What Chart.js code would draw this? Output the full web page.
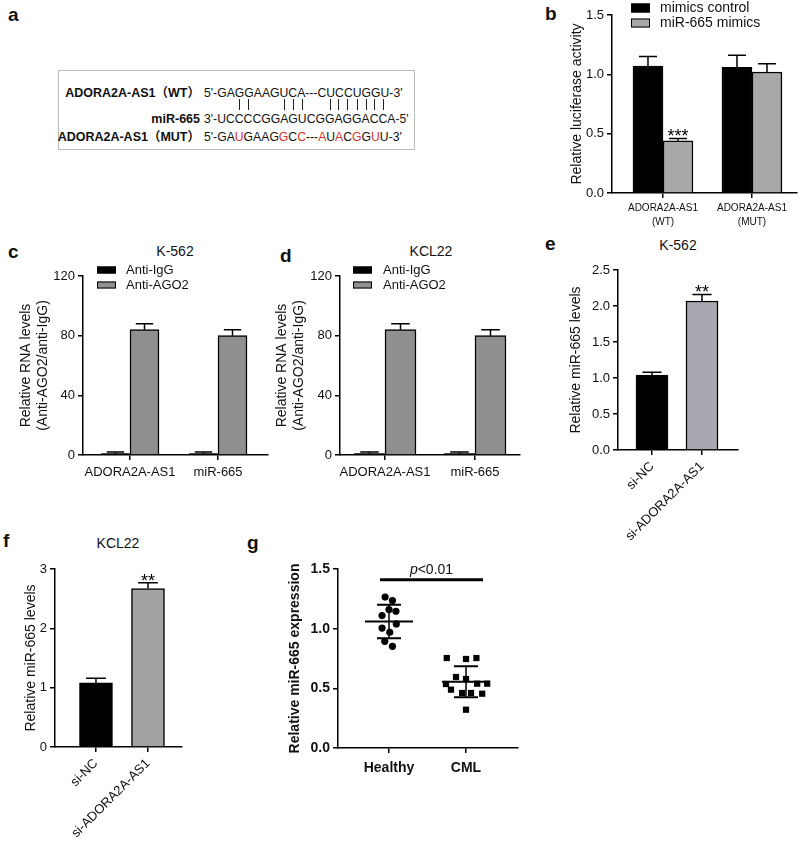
<!DOCTYPE html>
<html>
<head>
<meta charset="utf-8">
<script src="https://cdn.jsdelivr.net/npm/chart.js@4.4.1/dist/chart.umd.min.js"></script>
<style>
  body { margin: 0; background: #fff; width: 800px; height: 845px; position: relative; overflow: hidden;
         font-family: "Liberation Sans", Arial, "Noto Sans CJK SC", sans-serif; color: #111; }
  canvas { position: absolute; }
  .lbl { position: absolute; font-weight: bold; font-size: 19px; line-height: 20px; }
  .ttl { position: absolute; font-size: 14px; line-height: 16px; transform: translateX(-50%); white-space: nowrap; }
  #seqbox { position: absolute; left: 58px; top: 70px; width: 357px; height: 80px; border: 1px solid #bbb; box-sizing: border-box; }
  .nm { position: absolute; left: 0; width: 200px; text-align: right; font-weight: bold; font-size: 12.5px; line-height: 14px; white-space: nowrap; }
  .sq { position: absolute; left: 204px; font-size: 12.2px; line-height: 14px; white-space: nowrap; }
  .sq .red { color: #d8302c; }
  .sq .hid { color: transparent; }
  .sq .bar { color: transparent; position: relative; }
  .sq .bar::after { content: ''; position: absolute; left: 50%; top: 2px; height: 11px; border-left: 1.3px solid #222; }
</style>
</head>
<body>
<div class="lbl" style="left:8px;top:5px">a</div>
<div class="lbl" style="left:545px;top:4px">b</div>
<div class="lbl" style="left:8px;top:242px">c</div>
<div class="lbl" style="left:280px;top:246px">d</div>
<div class="lbl" style="left:545px;top:234px">e</div>
<div class="lbl" style="left:3px;top:531px">f</div>
<div class="lbl" style="left:247px;top:533px">g</div>

<div id="seqbox"></div>
<div id="seq"></div>

<div class="ttl" style="left:175px;top:243px">K-562</div>
<div class="ttl" style="left:431px;top:243px">KCL22</div>
<div class="ttl" style="left:678px;top:237px">K-562</div>
<div class="ttl" style="left:118px;top:535px">KCL22</div>

<canvas id="chartB" width="260" height="235" style="left:540px;top:0px"></canvas>
<canvas id="chartC" width="275" height="230" style="left:0px;top:255px"></canvas>
<canvas id="chartD" width="262" height="230" style="left:270px;top:255px"></canvas>
<canvas id="chartE" width="260" height="360" style="left:540px;top:240px"></canvas>
<canvas id="chartF" width="200" height="305" style="left:0px;top:540px"></canvas>
<canvas id="chartG" width="330" height="305" style="left:200px;top:540px"></canvas>

<script>
// a: binding site
const wtName = "ADORA2A-AS1（WT）";
const wtSeq = "5'-GAGGAAGUCA---CUCCUGGU-3'";
const mirName = "miR-665";
const mirSeq = "3'-UCCCCGGAGUCGGAGGACCA-5'";
const mutName = "ADORA2A-AS1（MUT）";
const mutSeq = "5'-GAUGAAGGCC---AUACGGUU-3'";
const pairedAt = [5, 6, 10, 11, 12, 15, 16, 17, 18, 19, 20, 21];
const mutRed = [5, 10, 12, 16, 18, 20, 22];

// b: luciferase
const lucCats = [["ADORA2A-AS1", "(WT)"], ["ADORA2A-AS1", "(MUT)"]];
const lucControl = [1.07, 1.06];
const lucControlErr = [0.08, 0.10];
const lucMimics = [0.44, 1.02];
const lucMimicsErr = [0.02, 0.07];
const lucStars = ["***", ""];

// c, d: RIP
const ripCats = ["ADORA2A-AS1", "miR-665"];
const k562IgG = [1.0, 1.0];
const k562IgGErr = [1.0, 1.0];
const k562AGO2 = [84, 80];
const k562AGO2Err = [4, 4];
const kclIgG = [1.0, 1.0];
const kclIgGErr = [1.0, 1.0];
const kclAGO2 = [84, 80];
const kclAGO2Err = [4, 4];

// e, f: knockdown
const siCats = ["si-NC", "si-ADORA2A-AS1"];
const k562Si = [1.04, 2.07];
const k562SiErr = [0.04, 0.09];
const kclSi = [1.08, 2.67];
const kclSiErr = [0.08, 0.10];
const siStars = ["", "**"];

// g: patients
const groups = ["Healthy", "CML"];
const healthyVals = [1.265, 1.235, 1.16, 1.145, 1.11, 1.04, 1.005, 0.97, 0.894, 0.852];
const healthyJitter = [-0.05, 0.045, 0, 0.09, -0.09, 0.095, -0.09, 0.01, -0.055, 0.045];
const cmlVals = [0.754, 0.746, 0.754, 0.595, 0.578, 0.536, 0.539, 0.539, 0.489, 0.461, 0.461, 0.455, 0.321];
const cmlJitter = [-0.25, 0, 0.135, -0.13, 0, -0.26, 0.145, 0.275, -0.195, -0.05, 0.065, 0.21, 0];
const groupMean = [1.06, 0.555];
const groupSD = [0.14, 0.13];
const pText = ["p", "<0.01"];
const pLevel = 1.41;

const FONT = '"Liberation Sans", Arial, sans-serif';
const INK = "#111";
Chart.defaults.font.family = FONT;
Chart.defaults.color = INK;

// panel a
function seqRow(text, top, cls) {
  const d = document.createElement("div");
  d.className = "sq";
  d.style.top = top + "px";
  [...text].forEach((ch, i) => {
    const s = document.createElement("span");
    s.textContent = ch;
    const c = cls(i);
    if (c) s.className = c;
    d.appendChild(s);
  });
  document.getElementById("seq").appendChild(d);
}
function nameRow(text, top) {
  const d = document.createElement("div");
  d.className = "nm";
  d.style.top = top + "px";
  d.textContent = text;
  document.getElementById("seq").appendChild(d);
}
nameRow(wtName, 86);
seqRow(wtSeq, 86, () => "");
seqRow(mirSeq, 97, i => pairedAt.includes(i) ? "bar" : "hid");
nameRow(mirName, 112);
seqRow(mirSeq, 112, () => "");
nameRow(mutName, 130);
seqRow(mutSeq, 130, i => mutRed.includes(i) ? "red" : "");

// plugins
const errorBars = {
  id: "errorBars",
  afterDatasetsDraw(chart) {
    const { ctx } = chart;
    const y = chart.scales.y;
    chart.data.datasets.forEach((ds, di) => {
      if (!ds.errors) return;
      chart.getDatasetMeta(di).data.forEach((bar, i) => {
        const top = y.getPixelForValue(ds.data[i].y + ds.errors[i]);
        const cap = bar.width * 0.3;
        ctx.save();
        ctx.strokeStyle = "#000";
        ctx.lineWidth = 1.5;
        ctx.beginPath();
        ctx.moveTo(bar.x, bar.y);
        ctx.lineTo(bar.x, top);
        ctx.moveTo(bar.x - cap, top);
        ctx.lineTo(bar.x + cap, top);
        ctx.stroke();
        if (ds.stars && ds.stars[i]) {
          ctx.fillStyle = "#000";
          ctx.font = "18px " + FONT;
          ctx.textAlign = "center";
          ctx.textBaseline = "alphabetic";
          ctx.fillText(ds.stars[i], bar.x, top + 4);
        }
        ctx.restore();
      });
    });
  }
};

const boxLegend = {
  id: "boxLegend",
  afterDraw(chart, args, o) {
    if (o.x === undefined) return;
    const { ctx } = chart;
    ctx.save();
    chart.data.datasets.forEach((ds, i) => {
      const cy = o.y + i * o.gap;
      ctx.fillStyle = ds.backgroundColor;
      ctx.fillRect(o.x, cy - o.bh / 2, o.bw, o.bh);
      ctx.strokeStyle = "#000";
      ctx.lineWidth = 1;
      ctx.strokeRect(o.x + 0.5, cy - o.bh / 2 + 0.5, o.bw - 1, o.bh - 1);
      ctx.fillStyle = INK;
      ctx.font = o.size + "px " + FONT;
      ctx.textBaseline = "middle";
      ctx.fillText(ds.label, o.x + o.bw + o.pad, cy);
    });
    ctx.restore();
  }
};

function yAxis(c) {
  return {
    min: 0, max: c.yMax,
    ticks: { stepSize: c.yStep, padding: 3, color: INK,
             font: { size: c.bold ? 14 : 13, weight: c.bold ? "bold" : "normal" },
             callback: v => c.yFmt(v) },
    grid: { drawOnChartArea: false, tickLength: 5, color: "#000", lineWidth: 1.5 },
    border: { color: "#000", width: 1.5 },
    title: { display: true, text: c.yTitle, color: INK,
             font: { size: 14, weight: c.bold ? "bold" : "normal", lineHeight: 1.2 },
             padding: { top: c.titlePad, bottom: 0 } },
    afterFit: s => { s.width = c.yW; }
  };
}

function xAxis(c) {
  return {
    type: "linear", min: c.xMin, max: c.xMax, offset: false,
    afterBuildTicks: s => { s.ticks = c.cats.map((l, i) => ({ value: i + 1 })); },
    ticks: { autoSkip: false, minRotation: c.rot || 0, maxRotation: c.rot || 0, padding: c.xPad || 3, color: INK,
             font: { size: c.xSize || 13, weight: c.bold ? "bold" : "normal", lineHeight: 1.4 },
             callback: (v, i) => c.cats[i] },
    grid: { offset: false, drawOnChartArea: false, tickLength: 5, color: "#000", lineWidth: 1.5 },
    border: { color: "#000", width: 1.5 },
    afterFit: s => { s.height = c.xH; }
  };
}

function barChart(id, c) {
  return new Chart(document.getElementById(id), {
    type: "bar",
    data: {
      datasets: c.series.map(s => ({
        label: s.label,
        data: s.values.map((v, i) => ({ x: i + 1, y: v })),
        errors: s.errors,
        stars: s.stars,
        backgroundColor: s.color,
        borderColor: "#000",
        borderWidth: 1.5,
        barThickness: c.barW
      }))
    },
    options: {
      responsive: false,
      animation: false,
      layout: { padding: { top: c.padTop, right: c.padRight, left: 0, bottom: 0 } },
      plugins: { legend: { display: false }, tooltip: { enabled: false }, boxLegend: c.legend || {} },
      scales: { x: xAxis(c), y: yAxis(c) }
    },
    plugins: [errorBars, boxLegend]
  });
}

const fmt1 = v => v.toFixed(1);
const fmt0 = v => String(v);

barChart("chartB", {
  cats: lucCats, xMin: 0.427, xMax: 2.506, xH: 42, xSize: 10,
  yMax: 1.5, yStep: 0.5, yFmt: fmt1, yTitle: "Relative luciferase activity", titlePad: 29, yW: 72,
  padTop: 15, padRight: 3, barW: 30,
  legend: { x: 91, y: 8, gap: 15, bw: 19, bh: 9, pad: 10, size: 14 },
  series: [
    { label: "mimics control", values: lucControl, errors: lucControlErr, color: "#000" },
    { label: "miR-665 mimics", values: lucMimics, errors: lucMimicsErr, stars: lucStars, color: "#a8a8a8" }
  ]
});

barChart("chartC", {
  cats: ripCats, xMin: 0.466, xMax: 2.568, xH: 30,
  yMax: 120, yStep: 40, yFmt: fmt0, yTitle: ["Relative RNA levels", "(Anti-AGO2/anti-IgG)"], titlePad: 18, yW: 83,
  padTop: 21, padRight: 7, barW: 29,
  legend: { x: 97, y: 15, gap: 15, bw: 19, bh: 7, pad: 10, size: 13 },
  series: [
    { label: "Anti-IgG", values: k562IgG, errors: k562IgGErr, color: "#000" },
    { label: "Anti-AGO2", values: k562AGO2, errors: k562AGO2Err, color: "#8f8f8f" }
  ]
});

barChart("chartD", {
  cats: ripCats, xMin: 0.5, xMax: 2.5, xH: 30,
  yMax: 120, yStep: 40, yFmt: fmt0, yTitle: ["Relative RNA levels", "(Anti-AGO2/anti-IgG)"], titlePad: 4, yW: 70,
  padTop: 21, padRight: 12, barW: 31,
  legend: { x: 83, y: 15, gap: 15, bw: 19, bh: 7, pad: 11, size: 13 },
  series: [
    { label: "Anti-IgG", values: kclIgG, errors: kclIgGErr, color: "#000" },
    { label: "Anti-AGO2", values: kclAGO2, errors: kclAGO2Err, color: "#8f8f8f" }
  ]
});

barChart("chartE", {
  cats: siCats, xMin: 0.32, xMax: 2.72, xH: 150, rot: 45,
  yMax: 2.5, yStep: 0.5, yFmt: fmt1, yTitle: "Relative miR-665 levels", titlePad: 28, yW: 78,
  padTop: 30, padRight: 62, barW: 32,
  series: [
    { label: "K-562", values: k562Si, errors: k562SiErr, stars: siStars, color: ["#000", "#a8a8b0"] }
  ]
});

barChart("chartF", {
  cats: siCats, xMin: 0.212, xMax: 2.654, xH: 98, rot: 45,
  yMax: 3, yStep: 1, yFmt: fmt0, yTitle: "Relative miR-665 levels", titlePad: 23, yW: 55,
  padTop: 29, padRight: 18, barW: 33,
  series: [
    { label: "KCL22", values: kclSi, errors: kclSiErr, stars: siStars, color: ["#000", "#a3a3a3"] }
  ]
});

// g
const meanSd = {
  id: "meanSd",
  afterDatasetsDraw(chart, args, o) {
    const { ctx, scales: { x, y } } = chart;
    ctx.save();
    ctx.strokeStyle = "#000";
    ctx.lineWidth = 2;
    groupMean.forEach((m, i) => {
      const cx = x.getPixelForValue(i + 1);
      const ym = y.getPixelForValue(m);
      const yh = y.getPixelForValue(m + groupSD[i]);
      const yl = y.getPixelForValue(m - groupSD[i]);
      ctx.beginPath();
      ctx.moveTo(cx - o.meanHalf, ym); ctx.lineTo(cx + o.meanHalf, ym);
      ctx.moveTo(cx - o.sdHalf, yh); ctx.lineTo(cx + o.sdHalf, yh);
      ctx.moveTo(cx - o.sdHalf, yl); ctx.lineTo(cx + o.sdHalf, yl);
      ctx.stroke();
      ctx.lineWidth = 1.5;
      ctx.beginPath();
      ctx.moveTo(cx, yh); ctx.lineTo(cx, yl);
      ctx.stroke();
      ctx.lineWidth = 2;
    });
    const by = y.getPixelForValue(pLevel);
    const x0 = x.getPixelForValue(1) - o.over[0];
    const x1 = x.getPixelForValue(2) + o.over[1];
    ctx.lineWidth = 3;
    ctx.beginPath();
    ctx.moveTo(x0, by); ctx.lineTo(x1, by);
    ctx.stroke();
    ctx.fillStyle = INK;
    ctx.textBaseline = "alphabetic";
    ctx.font = "italic 14px " + FONT;
    const w1 = ctx.measureText(pText[0]).width;
    ctx.font = "14px " + FONT;
    const w2 = ctx.measureText(pText[1]).width;
    const sx = (x0 + x1) / 2 - (w1 + w2) / 2;
    ctx.font = "italic 14px " + FONT;
    ctx.fillText(pText[0], sx, by - 6);
    ctx.font = "14px " + FONT;
    ctx.fillText(pText[1], sx + w1, by - 6);
    ctx.restore();
  }
};

new Chart(document.getElementById("chartG"), {
  type: "scatter",
  data: {
    datasets: [
      { label: groups[0], data: healthyVals.map((v, i) => ({ x: 1 + healthyJitter[i], y: v })),
        pointStyle: "circle", pointRadius: 3.6, backgroundColor: "#000", borderColor: "#000", borderWidth: 0 },
      { label: groups[1], data: cmlVals.map((v, i) => ({ x: 2 + cmlJitter[i], y: v })),
        pointStyle: "rect", pointRadius: 4.4, backgroundColor: "#000", borderColor: "#000", borderWidth: 0 }
    ]
  },
  options: {
    responsive: false,
    animation: false,
    layout: { padding: { top: 29, right: 12, left: 0, bottom: 0 } },
    plugins: { legend: { display: false }, tooltip: { enabled: false },
               meanSd: { meanHalf: 24, sdHalf: 12, over: [9, 17] } },
    scales: {
      x: xAxis({ cats: groups, xMin: 0.338, xMax: 2.675, xH: 97, xSize: 14, bold: true, xPad: 5 }),
      y: yAxis({ yMax: 1.5, yStep: 0.5, yFmt: fmt1, yTitle: "Relative miR-665 expression", titlePad: 87, yW: 138, bold: true })
    }
  },
  plugins: [meanSd]
});
</script>
</body>
</html>
